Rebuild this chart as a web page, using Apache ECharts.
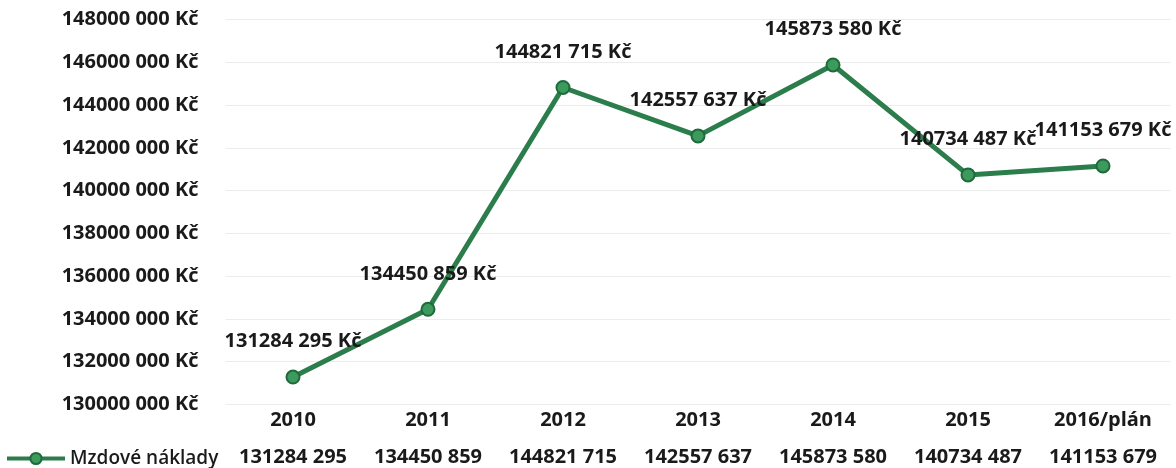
<!DOCTYPE html>
<html>
<head>
<meta charset="utf-8">
<script src="https://cdn.jsdelivr.net/npm/echarts@6/dist/echarts.min.js"></script>
<style>html,body{margin:0;padding:0;background:#fff;}#c{width:1176px;height:468px;}</style>
</head>
<body>
<div id="c"></div>
<script>
const categories = ['2010', '2011', '2012', '2013', '2014', '2015', '2016/plán'];
const seriesName = 'Mzdové náklady';
const values = [131284295, 134450859, 144821715, 142557637, 145873580, 140734487, 141153679];
const yMin = 130000000, yMax = 148000000, yStep = 2000000;

function fmt(v) {
  const hi = Math.floor(v / 1000);
  const lo = String(Math.round(v % 1000)).padStart(3, '0');
  return hi + ' ' + lo;
}
const tableLabels = values.map(fmt);
const FONT = '"Open Sans", sans-serif';
const TXT = '#1a1a1a';
const FS = 20;
const FW = 700;

const chart = echarts.init(document.getElementById('c'));
chart.setOption({
  animation: false,
  backgroundColor: '#fff',
  textStyle: { fontFamily: FONT },
  grid: { left: 225.5, right: 5.5, top: 19.5, bottom: 63.5, containLabel: false },
  legend: {
    left: 0, top: 444,
    itemWidth: 58, itemHeight: 14, itemGap: 4,
    lineStyle: { width: 4 },
    textStyle: { fontFamily: FONT, fontSize: 19, fontWeight: 600, color: TXT },
    data: [seriesName]
  },
  xAxis: [{
    type: 'category',
    data: categories,
    boundaryGap: true,
    axisLine: { show: false },
    axisTick: { show: false },
    axisLabel: { interval: 0, margin: 6, fontFamily: FONT, fontSize: FS, fontWeight: FW, color: TXT }
  }, {
    type: 'category',
    position: 'bottom',
    offset: 37,
    data: tableLabels,
    boundaryGap: true,
    axisLine: { show: false },
    axisTick: { show: false },
    axisLabel: { interval: 0, hideOverlap: false, margin: 6, fontFamily: FONT, fontSize: FS, fontWeight: FW, color: TXT }
  }],
  yAxis: {
    type: 'value',
    min: yMin, max: yMax, interval: yStep,
    axisLine: { show: false },
    axisTick: { show: false },
    splitLine: { lineStyle: { color: '#ececec', width: 1 } },
    axisLabel: {
      margin: 27,
      fontFamily: FONT, fontSize: FS, fontWeight: FW, color: TXT,
      formatter: v => fmt(v) + ' Kč'
    }
  },
  series: [{
    name: seriesName,
    type: 'line',
    data: values,
    symbol: 'circle',
    symbolSize: 13,
    lineStyle: { color: '#2b7d4b', width: 5 },
    itemStyle: { color: '#3b9a5c', borderColor: '#1f6a3c', borderWidth: 2 },
    label: {
      show: true, position: 'top', distance: 18,
      fontFamily: FONT, fontSize: FS, fontWeight: FW, color: TXT,
      formatter: p => fmt(p.value) + ' Kč'
    }
  }]
});
</script>
</body>
</html>
